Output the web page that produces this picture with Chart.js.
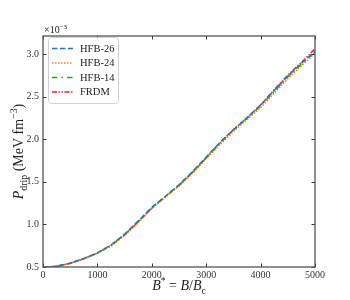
<!DOCTYPE html>
<html>
<head>
<meta charset="utf-8">
<script src="https://cdn.jsdelivr.net/npm/chart.js@4/dist/chart.umd.min.js"></script>
<style>
  html, body { margin: 0; padding: 0; background: #fff; }
  #wrap { width: 350px; height: 300px; }
</style>
</head>
<body>
<div id="wrap"><canvas id="pdrip" width="350" height="300"></canvas></div>
<script>
// magnetic field strength B* = B/B_c
const bStar = [0, 250, 500, 750, 1000, 1250, 1500, 1750, 2000, 2250, 2500, 2750, 3000, 3250, 3500, 3750, 4000, 4250, 4500, 4750, 5000];

// neutron drip pressure, units of 1e-3 MeV fm^-3
const hfb26 = [0.492, 0.510, 0.545, 0.600, 0.665, 0.760, 0.885, 1.040, 1.200, 1.330, 1.465, 1.620, 1.790, 1.960, 2.110, 2.250, 2.400, 2.570, 2.740, 2.890, 3.030];
const hfb24 = [0.490, 0.508, 0.542, 0.595, 0.660, 0.745, 0.870, 1.020, 1.185, 1.320, 1.450, 1.600, 1.770, 1.935, 2.090, 2.230, 2.370, 2.540, 2.710, 2.860, 3.010];
const hfb14 = [0.491, 0.509, 0.544, 0.598, 0.663, 0.755, 0.880, 1.035, 1.195, 1.325, 1.460, 1.615, 1.780, 1.950, 2.105, 2.245, 2.390, 2.560, 2.730, 2.880, 3.020];
const frdm  = [0.490, 0.508, 0.543, 0.597, 0.662, 0.750, 0.875, 1.030, 1.190, 1.325, 1.455, 1.610, 1.780, 1.955, 2.110, 2.250, 2.400, 2.580, 2.750, 2.900, 3.060];

const modelNames = ['HFB-26', 'HFB-24', 'HFB-14', 'FRDM'];
const xTicks = [0, 1000, 2000, 3000, 4000, 5000];
const yTicks = [0.5, 1.0, 1.5, 2.0, 2.5, 3.0];

const SERIF = '"Liberation Serif", "DejaVu Serif", serif';

function toPoints(ys) {
    return bStar.map((b, i) => ({ x: b, y: ys[i] }));
}

// draw a run of text pieces (normal / sub / sup), returns width
function drawRich(ctx, parts, x, y, size, measureOnly) {
    let cx = x;
    parts.forEach(p => {
        const s = p.sub || p.sup ? size * 0.7 : size;
        ctx.font = (p.it ? 'italic ' : '') + s + 'px ' + SERIF;
        const dy = p.sub ? size * 0.25 : (p.sup ? -size * 0.4 : 0);
        if (!measureOnly) ctx.fillText(p.t, cx, y + dy);
        cx += ctx.measureText(p.t).width;
    });
    return cx - x;
}

const decorPlugin = {
    id: 'decor',
    afterDraw(chart) {
        const ctx = chart.ctx;
        const a = chart.chartArea;
        const xs = chart.scales.x, ys = chart.scales.y;
        ctx.save();

        // inward ticks on all four sides
        ctx.strokeStyle = '#333';
        ctx.lineWidth = 1;
        const tl = 3.5;
        xs.ticks.forEach(t => {
            const px = Math.round(xs.getPixelForValue(t.value)) + 0.5;
            ctx.beginPath();
            ctx.moveTo(px, a.bottom); ctx.lineTo(px, a.bottom - tl);
            ctx.moveTo(px, a.top); ctx.lineTo(px, a.top + tl);
            ctx.stroke();
        });
        ys.ticks.forEach(t => {
            const py = Math.round(ys.getPixelForValue(t.value)) + 0.5;
            ctx.beginPath();
            ctx.moveTo(a.left, py); ctx.lineTo(a.left + tl, py);
            ctx.moveTo(a.right, py); ctx.lineTo(a.right - tl, py);
            ctx.stroke();
        });

        // frame
        ctx.strokeStyle = '#555';
        ctx.lineWidth = 1.3;
        ctx.strokeRect(a.left, a.top, a.right - a.left, a.bottom - a.top);

        // legend
        const lx = a.left + 5, ly = a.top + 1, lw = 70, lh = 66;
        ctx.fillStyle = 'rgba(255,255,255,0.85)';
        ctx.strokeStyle = '#d0d0d0';
        ctx.lineWidth = 1;
        ctx.beginPath();
        ctx.roundRect(lx + 0.5, ly + 0.5, lw, lh, 3);
        ctx.fill();
        ctx.stroke();
        chart.data.datasets.forEach((ds, i) => {
            const ry = ly + 11.5 + i * 14.5;
            ctx.strokeStyle = ds.borderColor;
            ctx.lineWidth = ds.borderWidth;
            ctx.setLineDash(ds.borderDash || []);
            ctx.beginPath();
            ctx.moveTo(lx + 4, ry); ctx.lineTo(lx + 25, ry);
            ctx.stroke();
            ctx.setLineDash([]);
            ctx.fillStyle = '#222';
            ctx.font = '10.5px ' + SERIF;
            ctx.textBaseline = 'middle';
            ctx.fillText(ds.label, lx + 32, ry + 0.5);
        });

        // offset text x10^-3
        ctx.fillStyle = '#222';
        ctx.textBaseline = 'alphabetic';
        drawRich(ctx, [{ t: '\u00d710' }, { t: '\u22123', sup: true }], a.left + 1, a.top - 3, 10);

        // x title
        const xParts = [{ t: 'B', it: true }, { t: '*', sup: true }, { t: ' = ' }, { t: 'B', it: true }, { t: '/' }, { t: 'B', it: true }, { t: 'c', sub: true }];
        const xw = drawRich(ctx, xParts, 0, 0, 14, true);
        drawRich(ctx, xParts, (a.left + a.right) / 2 - xw / 2, 290, 14);

        // y title
        const yParts = [{ t: 'P', it: true }, { t: 'drip', sub: true }, { t: ' (MeV fm' }, { t: '\u22123', sup: true }, { t: ')' }];
        const yw = drawRich(ctx, yParts, 0, 0, 14, true);
        ctx.translate(23, (a.top + a.bottom) / 2);
        ctx.rotate(-Math.PI / 2);
        drawRich(ctx, yParts, -yw / 2, 0, 14);

        ctx.restore();
    }
};

const lineStyles = [
    { color: '#1f77b4', dash: [5.5, 2.5] },
    { color: '#ff7f0e', dash: [1.5, 1.5] },
    { color: '#2ca02c', dash: [5.5, 4, 1.5, 4] },
    { color: '#d62728', dash: [5, 1.5, 1.5, 1.5, 1.5, 1.5] }
];
const seriesData = [hfb26, hfb24, hfb14, frdm];

new Chart(document.getElementById('pdrip'), {
    type: 'line',
    data: {
        datasets: seriesData.map((s, i) => ({
            label: modelNames[i],
            data: toPoints(s),
            borderColor: lineStyles[i].color,
            borderDash: lineStyles[i].dash,
            borderWidth: 1.5,
            pointRadius: 0,
            fill: false,
            tension: 0
        }))
    },
    options: {
        responsive: false,
        animation: false,
        events: [],
        layout: { padding: { left: 0, top: 36, right: 35, bottom: 0 } },
        plugins: { legend: { display: false }, tooltip: { enabled: false } },
        scales: {
            x: {
                type: 'linear',
                min: 0, max: 5000,
                afterFit: s => { s.height = 33; },
                afterBuildTicks: s => { s.ticks = xTicks.map(v => ({ value: v })); },
                grid: { display: false, drawTicks: false },
                border: { display: false },
                ticks: {
                    padding: 2,
                    maxRotation: 0,
                    color: '#333',
                    font: { family: SERIF, size: 10 },
                    callback: v => String(v)
                }
            },
            y: {
                type: 'linear',
                min: 0.5, max: 3.21,
                afterFit: s => { s.width = 43; },
                afterBuildTicks: s => { s.ticks = yTicks.map(v => ({ value: v })); },
                grid: { display: false, drawTicks: false },
                border: { display: false },
                ticks: {
                    padding: 4,
                    color: '#333',
                    font: { family: SERIF, size: 10 },
                    callback: v => v.toFixed(1)
                }
            }
        }
    },
    plugins: [decorPlugin]
});
</script>
</body>
</html>
